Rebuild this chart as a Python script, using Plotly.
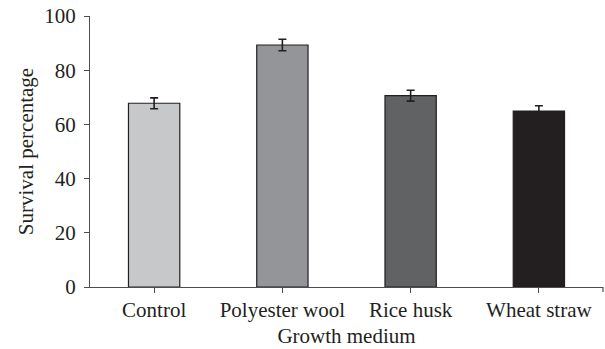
import plotly.graph_objects as go

categories = ["Control", "Polyester wool", "Rice husk", "Wheat straw"]
survival = [67.8, 89.3, 70.6, 64.9]
errors = [2.0, 2.1, 2.0, 2.0]
bar_colors = ["#c7c8ca", "#939598", "#616264", "#231f20"]
y_ticks = [0, 20, 40, 60, 80, 100]

FONT = "Liberation Serif"
AXIS = "#4d4d4f"
FS = 21

fig = go.Figure()
fig.add_trace(go.Bar(
    x=categories,
    y=survival,
    width=0.4,
    marker=dict(color=bar_colors, line=dict(color="#231f20", width=1.2)),
    error_y=dict(type="data", array=errors, visible=True, color="#231f20",
                 thickness=1.6, width=4),
))

fig.update_layout(
    width=605, height=349,
    margin=dict(l=90, r=2, t=16, b=62),
    paper_bgcolor="white", plot_bgcolor="white",
    showlegend=False,
    font=dict(family=FONT, size=FS, color="#231f20"),
    xaxis=dict(
        range=[-0.5, 3.5],
        showline=True, linecolor=AXIS, linewidth=1.2,
        ticks="outside", ticklen=5, tickcolor=AXIS, tickwidth=1.2,
        ticklabelstandoff=-1,
        showgrid=False, zeroline=False,
        title=dict(text="Growth medium", standoff=7, font=dict(size=FS)),
    ),
    yaxis=dict(
        range=[0, 100], tickvals=y_ticks,
        showline=True, linecolor=AXIS, linewidth=1.2,
        ticks="outside", ticklen=5, tickcolor=AXIS, tickwidth=1.2,
        ticklabelstandoff=4,
        showgrid=False, zeroline=False,
        title=dict(text="Survival percentage", standoff=4, font=dict(size=FS)),
    ),
)

# end tick at the right end of the category axis
fig.add_shape(type="line", xref="paper", yref="paper", x0=1, x1=1,
              y0=0, y1=-5 / 271, line=dict(color=AXIS, width=1.2))

fig.write_html("out.html")
